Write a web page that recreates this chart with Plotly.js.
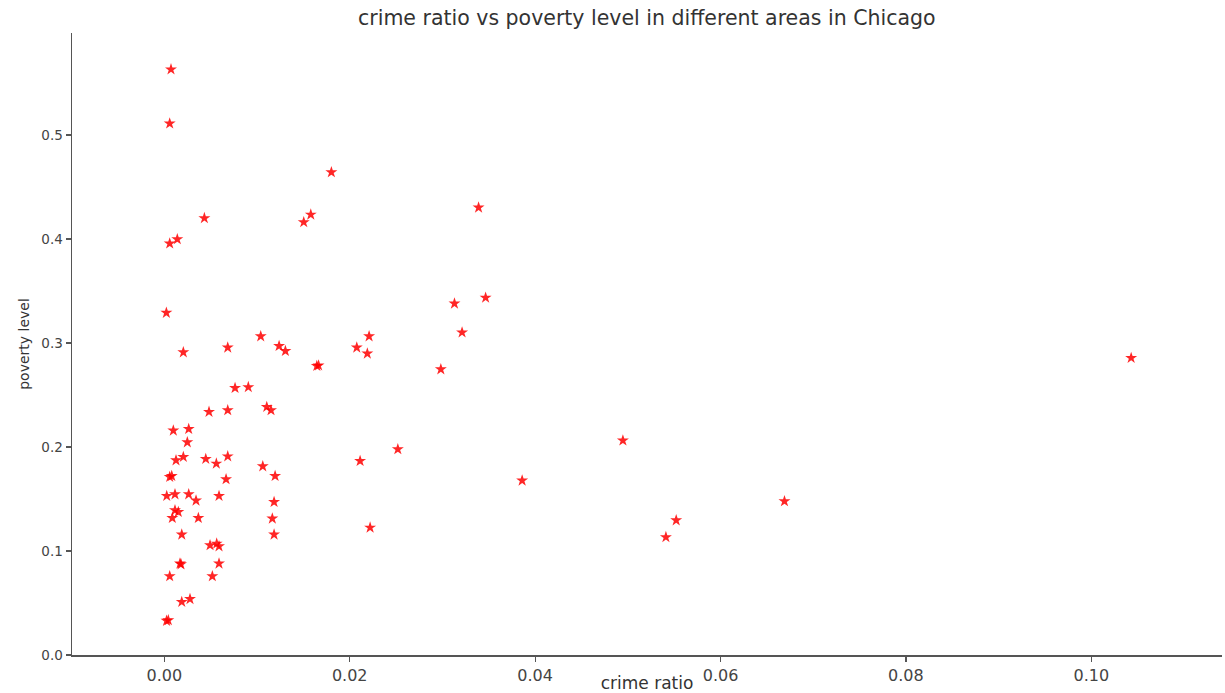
<!DOCTYPE html>
<html>
<head>
<meta charset="utf-8">
<script src="https://cdn.plot.ly/plotly-3.0.1.min.js"></script>
<style>html,body{margin:0;padding:0;background:#fff;}#chart{width:1225px;height:693px;}</style>
</head>
<body>
<div id="chart"></div>
<script>
const crimeRatio = [
  0.00072, 0.00058, 0.00432, 0.0014, 0.00058, 0.00022, 0.0104, 0.00205, 0.00684, 0.00763,
  0.00906, 0.00482, 0.00684, 0.01105, 0.01151, 0.00097, 0.00263, 0.00248, 0.00126, 0.00205,
  0.00447, 0.00561, 0.00684, 0.01062, 0.00058, 0.0008, 0.00666, 0.01195, 0.00026, 0.00115,
  0.00263, 0.00342, 0.0059, 0.01184, 0.00115, 0.00151, 0.00086, 0.00367, 0.01165, 0.00188,
  0.01184, 0.00493, 0.00565, 0.0059, 0.00169, 0.0018, 0.0059, 0.00058, 0.00518, 0.00188,
  0.00277, 0.00043, 0.00024, 0.01802, 0.0158, 0.01504, 0.0339, 0.0313, 0.03466, 0.03212,
  0.02983, 0.01238, 0.01306, 0.01645, 0.01664, 0.02076, 0.02209, 0.0219, 0.02519, 0.02112,
  0.0222, 0.04947, 0.0386, 0.05522, 0.05411, 0.0669, 0.1043
];
const povertyLevel = [
  0.563, 0.511, 0.420, 0.3997, 0.3956, 0.329, 0.3064, 0.291, 0.2956, 0.2567,
  0.2575, 0.2337, 0.2353, 0.2385, 0.2353, 0.2158, 0.2173, 0.2045, 0.1872, 0.1904,
  0.1885, 0.184, 0.191, 0.1814, 0.1712, 0.1721, 0.169, 0.1721, 0.1529, 0.1545,
  0.1545, 0.1485, 0.1529, 0.1471, 0.1391, 0.1375, 0.1317, 0.1317, 0.1312, 0.1158,
  0.1158, 0.1055, 0.1071, 0.1045, 0.0879, 0.0872, 0.0879, 0.0757, 0.0757, 0.051,
  0.0538, 0.0334, 0.0329, 0.4641, 0.4234, 0.4161, 0.4302, 0.3379, 0.3435, 0.3101,
  0.2747, 0.2971, 0.2923, 0.2779, 0.2784, 0.2956, 0.3064, 0.2898, 0.1978, 0.1865,
  0.1225, 0.2062, 0.1677, 0.1295, 0.1133, 0.1478, 0.2856
];
const xTicks = [0, 0.02, 0.04, 0.06, 0.08, 0.10];
const xTickText = ["0.00", "0.02", "0.04", "0.06", "0.08", "0.10"];
const yTicks = [0, 0.1, 0.2, 0.3, 0.4, 0.5];
const yTickText = ["0.0", "0.1", "0.2", "0.3", "0.4", "0.5"];

const trace = {
  x: crimeRatio,
  y: povertyLevel,
  mode: 'markers',
  type: 'scatter',
  marker: {symbol: 'star', size: 9, color: 'rgba(255,0,0,0.85)', line: {width: 0}}
};

const fam = 'DejaVu Sans, sans-serif';
const layout = {
  width: 1225, height: 693,
  paper_bgcolor: '#fff', plot_bgcolor: '#fff',
  margin: {l: 72, r: 3, t: 33, b: 38, pad: 0},
  showlegend: false,
  font: {family: fam, color: '#333'},
  title: {text: 'crime ratio vs poverty level in different areas in Chicago',
          font: {family: fam, size: 20.5, color: '#333'},
          x: 0.528, xanchor: 'center', y: 0.975, yanchor: 'middle'},
  xaxis: {
    range: [-0.00996, 0.1141], tickvals: xTicks, ticktext: xTickText,
    showgrid: false, zeroline: false, showline: true, linecolor: '#555', linewidth: 1.5,
    ticks: 'outside', ticklen: 5, tickcolor: '#555', tickwidth: 1.2,
    tickfont: {family: fam, size: 16, color: '#444'},
    title: {text: 'crime ratio', font: {family: fam, size: 17, color: '#333'}, standoff: 10},
    automargin: false, fixedrange: true
  },
  yaxis: {
    range: [0, 0.598], tickvals: yTicks, ticktext: yTickText,
    showgrid: false, zeroline: false, showline: true, linecolor: '#555', linewidth: 1.5,
    ticks: 'outside', ticklen: 5, tickcolor: '#555', tickwidth: 1.2,
    tickfont: {family: fam, size: 13.5, color: '#444'},
    title: {text: 'poverty level', font: {family: fam, size: 14, color: '#333'}, standoff: 8},
    automargin: false, fixedrange: true
  }
};

Plotly.newPlot('chart', [trace], layout, {displayModeBar: false, staticPlot: true});
</script>
</body>
</html>
